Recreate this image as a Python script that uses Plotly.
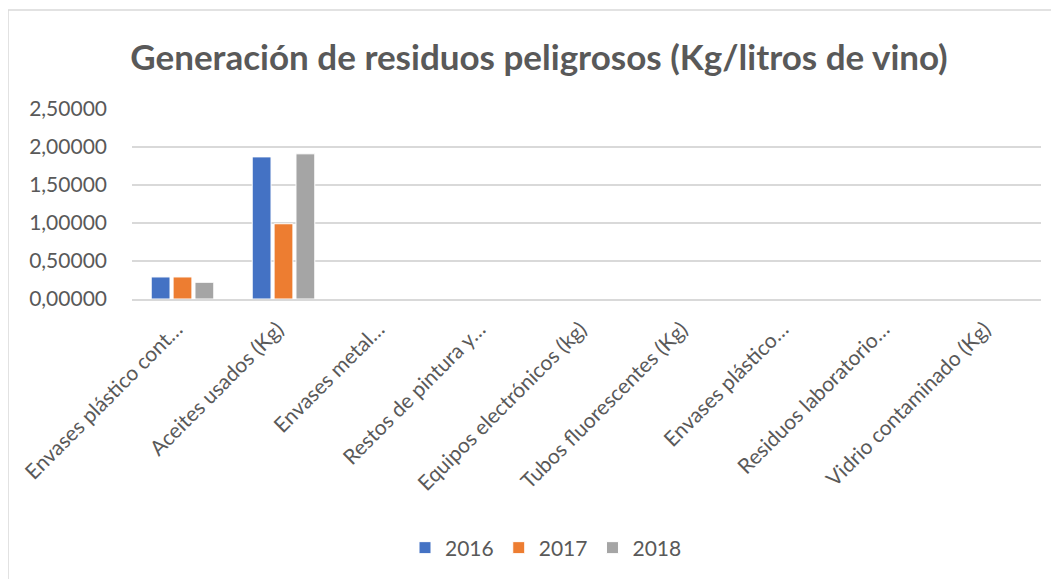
import plotly.graph_objects as go

categories = [
    "Envases plástico cont…",
    "Aceites usados (Kg)",
    "Envases metal…",
    "Restos de pintura y…",
    "Equipos electrónicos (kg)",
    "Tubos fluorescentes (Kg)",
    "Envases plástico…",
    "Residuos laboratorio…",
    "Vidrio contaminado (Kg)",
]
years = ["2016", "2017", "2018"]
values_2016 = [0.29, 1.87, 0, 0, 0, 0, 0, 0, 0]
values_2017 = [0.29, 0.99, 0, 0, 0, 0, 0, 0, 0]
values_2018 = [0.22, 1.91, 0, 0, 0, 0, 0, 0, 0]
colors = ["#4472C4", "#ED7D31", "#A5A5A5"]
y_ticks = [0, 0.5, 1.0, 1.5, 2.0, 2.5]

OFF = 8  # default page body margin
W, H = 1059 - OFF, 579 - OFF
L, R, T, B = 132 - OFF, 1041 - OFF, 109 - OFF, 299 - OFF

fig = go.Figure()
for name, vals, col in zip(years, [values_2016, values_2017, values_2018], colors):
    fig.add_trace(go.Bar(
        x=categories, y=vals, name=name,
        marker=dict(color=col, line=dict(color="white", width=1)),
    ))

font_family = "Lato, 'Open Sans', sans-serif"
fig.update_layout(
    width=W, height=H,
    margin=dict(l=L, r=W - R, t=T, b=H - B, autoexpand=False),
    paper_bgcolor="white", plot_bgcolor="white",
    separators=",.",
    barmode="group", bargap=0.35, bargroupgap=0.14,
    font=dict(family=font_family, color="#595959"),
    title=dict(
        text="<b>Generación de residuos peligrosos (Kg/litros de vino)</b>",
        x=(539 - OFF) / W, xref="container", xanchor="center",
        y=1 - (58 - OFF) / H, yref="container", yanchor="middle",
        font=dict(size=35, color="#595959", family=font_family),
    ),
    showlegend=True,
    legend=dict(
        orientation="h", x=(546 - OFF - L) / (R - L), xanchor="center",
        y=(B - (548 - OFF)) / (B - T), yanchor="middle",
        font=dict(size=21, color="#595959"),
        itemwidth=30, traceorder="normal",
    ),
    xaxis=dict(
        tickangle=-45, tickfont=dict(size=21, color="#595959"),
        showline=True, linecolor="#D9D9D9", linewidth=1.5,
        ticks="", showgrid=False,
        ticklabelstandoff=8, ticklabelshift=-6,
    ),
    yaxis=dict(
        range=[0, 2.5], tickvals=y_ticks, tickformat=".5f",
        tickfont=dict(size=21, color="#595959"),
        showgrid=True, gridcolor="#D9D9D9", gridwidth=1.5,
        zeroline=False, showline=False, ticklen=0, ticks="",
        ticklabelstandoff=24,
    ),
    shapes=[dict(
        type="rect", xref="paper", yref="paper",
        x0=(8 - OFF - L) / (R - L), x1=(1080 - OFF - L) / (R - L),
        y0=(B - 620) / (B - T), y1=(B - (10 - OFF)) / (B - T),
        line=dict(color="#D9D9D9", width=1.5), layer="below",
    )],
)

fig.write_html("out.html")
